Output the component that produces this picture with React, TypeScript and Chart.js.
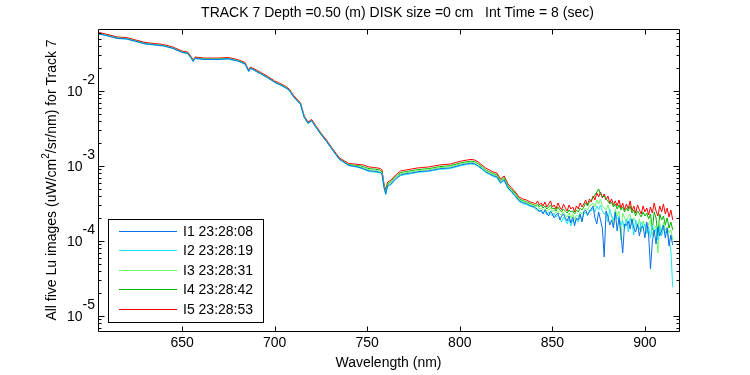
import React, { useEffect, useRef } from 'react';
import { Chart, registerables } from 'chart.js';

Chart.register(...registerables);

// ---------------- DATA ----------------
const titleText = 'TRACK 7 Depth =0.50 (m) DISK size =0 cm   Int Time = 8 (sec)';
const xLabelText = 'Wavelength (nm)';
const yLabelParts = ['All five Lu images (uW/cm', '2', '/sr/nm) for Track 7'];

const seriesLabels = ['I1 23:28:08', 'I2 23:28:19', 'I3 23:28:31', 'I4 23:28:42', 'I5 23:28:53'];
const seriesColors = ['#0a6ee6', '#1ee6f5', '#6cfa6c', '#00b400', '#ff0000'];

const xTicks = [650, 700, 750, 800, 850, 900];
const yMajorExponents = [-2, -3, -4, -5];
const xRange = [604.6, 918.4];
const yRange = [6.3e-6, 0.0671];

const wavelengths = [
  605, 610, 615, 620, 625, 630, 635, 640, 645, 650, 653, 655, 656, 657, 659, 662, 666, 670, 675, 680,
  684, 686, 687, 688, 690, 693, 696, 700, 703, 706, 708, 710, 712, 714, 716, 718, 720, 722, 725, 728,
  731, 735, 740, 745,
  748, 751, 754, 757, 758, 759, 760, 761, 762, 763, 764, 766, 768, 771, 774, 777, 780, 783, 786, 789,
  792, 795, 798, 801, 804, 806, 808, 810, 812, 814, 816, 818, 820, 822, 824, 826, 828, 830, 832, 834,
  836, 838, 840,
  841, 842, 843, 844, 845, 846, 847, 848, 849, 850, 851, 852, 853, 854, 855, 856, 857, 858, 859, 860,
  861, 862, 863, 864, 865, 866, 867, 868, 869, 870, 871, 872, 873, 874, 875, 876, 877, 878, 879, 880,
  881, 882, 883, 884, 885, 886, 887, 888, 889, 890, 891, 892, 893, 894, 895, 896, 897, 898, 899, 900,
  901, 902, 903, 904, 905, 906, 907, 908, 909, 910, 911, 912, 913, 914, 915,
];

const i1 = [
  0.0579, 0.0543, 0.0504, 0.0495, 0.046, 0.0426, 0.0413, 0.04, 0.0371, 0.0327,
  0.0318, 0.0273, 0.0249, 0.0273, 0.0269, 0.0264, 0.0264, 0.0264, 0.0269, 0.0252,
  0.023, 0.0183, 0.0201, 0.0195, 0.0183, 0.0167, 0.0152, 0.0131, 0.0121, 0.011,
  0.0102, 0.0085, 0.00751, 0.00664, 0.00445, 0.00371, 0.004, 0.00338, 0.00264, 0.00213,
  0.00167, 0.00123, 0.00102, 0.00097,
  9.2e-4, 8.6e-4, 8.5e-4, 8.2e-4, 7.9e-4, 5.3e-4, 4.25e-4, 5.45e-4, 5.6e-4, 5.8e-4,
  6.25e-4, 6.95e-4, 7.6e-4, 7.9e-4, 8.1e-4, 8.35e-4, 8.5e-4, 8.6e-4, 8.9e-4, 9.2e-4,
  9.3e-4, 9.45e-4, 9.9e-4, 1.04e-3, 1.07e-3, 1.09e-3, 1.07e-3, 1.0e-3, 9.2e-4, 8.35e-4,
  7.9e-4, 7.4e-4, 7.2e-4, 5.95e-4, 6.55e-4, 5.1e-4, 4.55e-4, 4.0e-4, 3.45e-4, 3.25e-4,
  3.15e-4, 2.95e-4, 2.85e-4,
  2.75e-4, 2.67e-4, 2.44e-4, 2.59e-4, 2.29e-4, 2.59e-4, 2.36e-4, 2.15e-4, 2.51e-4, 2.29e-4,
  2.03e-4, 2.22e-4, 2.36e-4, 1.91e-4, 2.15e-4, 2.29e-4, 2.03e-4, 1.85e-4, 2.15e-4, 1.74e-4,
  2.09e-4, 1.59e-4, 2.03e-4, 1.91e-4, 2.29e-4, 1.79e-4, 2.44e-4, 2.59e-4, 2.22e-4, 2.44e-4,
  2.67e-4, 2.93e-4, 2.03e-4, 1.69e-4, 2.44e-4, 1.91e-4, 1.49e-4, 6.12e-5, 2.51e-4, 2.15e-4,
  1.63e-4, 1.91e-4, 1.49e-4, 2.44e-4, 1.36e-4, 2.03e-4, 1.28e-4, 6.92e-5, 1.69e-4, 1.59e-4,
  1.85e-4, 1.45e-4, 1.97e-4, 1.49e-4, 1.32e-4, 1.69e-4, 1.17e-4, 1.54e-4, 1.54e-4, 1.10e-4,
  1.79e-4, 1.20e-4, 4.25e-5, 9.7e-5, 1.40e-4, 9.12e-5, 1.54e-4, 1.17e-4, 1.36e-4, 1.63e-4,
  1.10e-4, 1.49e-4, 8.58e-5, 1.20e-4, 8.84e-5,
];

const i2 = [
  0.0576, 0.0541, 0.0501, 0.0493, 0.0457, 0.0424, 0.0411, 0.0398, 0.0369, 0.0326,
  0.0316, 0.0271, 0.0247, 0.0271, 0.0267, 0.0263, 0.0263, 0.0263, 0.0267, 0.0251,
  0.0229, 0.0182, 0.02, 0.0194, 0.0182, 0.0166, 0.0151, 0.013, 0.012, 0.011,
  0.0101, 0.00845, 0.00747, 0.00661, 0.00443, 0.00369, 0.00398, 0.00336, 0.00263, 0.00212,
  0.00166, 0.00122, 0.00101, 0.00096,
  9.0e-4, 8.4e-4, 8.3e-4, 8.1e-4, 7.7e-4, 5.2e-4, 4.15e-4, 5.3e-4, 5.5e-4, 5.65e-4,
  6.1e-4, 6.8e-4, 7.45e-4, 7.7e-4, 7.9e-4, 8.2e-4, 8.3e-4, 8.45e-4, 8.7e-4, 9.0e-4,
  9.1e-4, 9.25e-4, 9.7e-4, 1.01e-3, 1.05e-3, 1.06e-3, 1.05e-3, 9.8e-4, 9.0e-4, 8.2e-4,
  7.7e-4, 7.25e-4, 7.0e-4, 5.85e-4, 6.4e-4, 5.0e-4, 4.45e-4, 3.9e-4, 3.35e-4, 3.15e-4,
  3.05e-4, 2.9e-4, 2.8e-4,
  2.67e-4, 2.51e-4, 2.59e-4, 2.44e-4, 2.36e-4, 2.51e-4, 2.22e-4, 2.44e-4, 2.29e-4, 2.15e-4,
  2.36e-4, 2.09e-4, 2.22e-4, 2.03e-4, 1.79e-4, 2.09e-4, 1.91e-4, 1.69e-4, 1.97e-4, 1.59e-4,
  1.91e-4, 1.74e-4, 1.97e-4, 1.79e-4, 2.15e-4, 1.97e-4, 2.29e-4, 2.44e-4, 2.15e-4, 2.59e-4,
  2.51e-4, 2.75e-4, 2.44e-4, 2.93e-4, 2.59e-4, 3.02e-4, 2.51e-4, 2.29e-4, 2.36e-4, 1.79e-4,
  2.67e-4, 2.15e-4, 1.91e-4, 2.29e-4, 1.97e-4, 2.15e-4, 1.63e-4, 1.85e-4, 1.45e-4, 1.97e-4,
  1.32e-4, 2.03e-4, 1.69e-4, 1.20e-4, 1.91e-4, 1.59e-4, 1.40e-4, 1.79e-4, 1.49e-4, 1.69e-4,
  1.28e-4, 1.54e-4, 1.10e-4, 1.63e-4, 1.24e-4, 1.45e-4, 1.03e-4, 1.59e-4, 1.17e-4, 1.49e-4,
  1.28e-4, 1.40e-4, 1.03e-4, 7.59e-5, 2.42e-5,
];

const i3 = [
  0.0582, 0.0546, 0.0507, 0.0498, 0.0462, 0.0428, 0.0415, 0.0402, 0.0372, 0.0329,
  0.0319, 0.0274, 0.025, 0.0274, 0.027, 0.0265, 0.0265, 0.0265, 0.027, 0.0254,
  0.0232, 0.0184, 0.0202, 0.0196, 0.0184, 0.0168, 0.0152, 0.0131, 0.0122, 0.0111,
  0.0102, 0.00854, 0.00755, 0.00668, 0.00448, 0.00372, 0.00402, 0.0034, 0.00265, 0.00214,
  0.00168, 0.00123, 0.00103, 0.00099,
  9.5e-4, 8.9e-4, 8.8e-4, 8.5e-4, 8.1e-4, 5.5e-4, 4.4e-4, 5.6e-4, 5.8e-4, 6.0e-4,
  6.45e-4, 7.2e-4, 7.9e-4, 8.15e-4, 8.4e-4, 8.65e-4, 8.8e-4, 8.9e-4, 9.2e-4, 9.5e-4,
  9.6e-4, 9.8e-4, 1.02e-3, 1.07e-3, 1.11e-3, 1.12e-3, 1.11e-3, 1.04e-3, 9.5e-4, 8.65e-4,
  8.15e-4, 7.65e-4, 7.4e-4, 6.2e-4, 6.8e-4, 5.3e-4, 4.7e-4, 4.15e-4, 3.55e-4, 3.35e-4,
  3.25e-4, 3.05e-4, 2.95e-4,
  2.84e-4, 2.93e-4, 2.67e-4, 2.75e-4, 2.59e-4, 2.67e-4, 2.51e-4, 2.59e-4, 2.75e-4, 2.44e-4,
  2.59e-4, 2.36e-4, 2.51e-4, 2.29e-4, 2.22e-4, 2.44e-4, 2.15e-4, 2.09e-4, 2.36e-4, 2.03e-4,
  2.29e-4, 1.91e-4, 2.22e-4, 2.09e-4, 2.44e-4, 2.29e-4, 2.51e-4, 2.75e-4, 2.59e-4, 2.93e-4,
  3.02e-4, 3.21e-4, 2.84e-4, 3.52e-4, 3.11e-4, 3.63e-4, 2.93e-4, 2.75e-4, 2.59e-4, 3.02e-4,
  2.44e-4, 2.22e-4, 1.59e-4, 2.67e-4, 2.15e-4, 2.51e-4, 1.03e-4, 2.36e-4, 2.03e-4, 1.79e-4,
  2.15e-4, 2.29e-4, 1.63e-4, 2.03e-4, 1.79e-4, 1.49e-4, 1.97e-4, 1.32e-4, 1.85e-4, 1.59e-4,
  1.24e-4, 1.69e-4, 1.91e-4, 1.17e-4, 1.49e-4, 1.59e-4, 6.92e-5, 1.69e-4, 1.36e-4, 1.79e-4,
  1.40e-4, 1.54e-4, 1.28e-4, 1.40e-4, 1.03e-4,
];

const i4 = [
  0.0585, 0.0549, 0.0509, 0.0501, 0.0465, 0.0431, 0.0417, 0.0404, 0.0374, 0.0331,
  0.0321, 0.0275, 0.0251, 0.0275, 0.0272, 0.0267, 0.0267, 0.0267, 0.0272, 0.0255,
  0.0233, 0.0185, 0.0203, 0.0197, 0.0185, 0.0169, 0.0153, 0.0132, 0.0122, 0.0112,
  0.0103, 0.00858, 0.00759, 0.00671, 0.0045, 0.00374, 0.00404, 0.00341, 0.00267, 0.00215,
  0.00169, 0.00124, 0.00104, 0.00101,
  9.8e-4, 9.2e-4, 9.1e-4, 8.8e-4, 8.4e-4, 5.6e-4, 4.55e-4, 5.8e-4, 6.0e-4, 6.2e-4,
  6.7e-4, 7.4e-4, 8.15e-4, 8.4e-4, 8.7e-4, 8.9e-4, 9.1e-4, 9.2e-4, 9.5e-4, 9.8e-4,
  9.95e-4, 1.01e-3, 1.06e-3, 1.11e-3, 1.14e-3, 1.16e-3, 1.14e-3, 1.07e-3, 9.8e-4, 8.9e-4,
  8.4e-4, 7.9e-4, 7.65e-4, 6.4e-4, 7.0e-4, 5.45e-4, 4.85e-4, 4.3e-4, 3.65e-4, 3.45e-4,
  3.35e-4, 3.15e-4, 3.05e-4,
  2.93e-4, 3.11e-4, 2.84e-4, 3.02e-4, 2.75e-4, 2.93e-4, 2.67e-4, 2.84e-4, 3.02e-4, 2.67e-4,
  2.75e-4, 2.51e-4, 2.84e-4, 2.59e-4, 2.44e-4, 2.67e-4, 2.51e-4, 2.36e-4, 2.59e-4, 2.44e-4,
  2.51e-4, 2.29e-4, 2.59e-4, 2.44e-4, 2.75e-4, 2.59e-4, 2.84e-4, 3.21e-4, 2.93e-4, 3.31e-4,
  3.52e-4, 3.74e-4, 4.11e-4, 4.5e-4, 4.94e-4, 4.23e-4, 3.86e-4, 3.98e-4, 3.63e-4, 3.42e-4,
  3.11e-4, 3.31e-4, 2.84e-4, 3.11e-4, 2.67e-4, 3.02e-4, 2.59e-4, 2.84e-4, 2.44e-4, 2.75e-4,
  2.51e-4, 2.93e-4, 2.36e-4, 2.59e-4, 2.15e-4, 2.51e-4, 2.29e-4, 2.09e-4, 2.44e-4, 2.15e-4,
  2.36e-4, 1.97e-4, 2.29e-4, 1.40e-4, 2.44e-4, 2.03e-4, 1.17e-4, 2.29e-4, 1.91e-4, 2.15e-4,
  1.63e-4, 2.03e-4, 1.49e-4, 1.79e-4, 1.40e-4,
];

const i5 = [
  0.0603, 0.0566, 0.0525, 0.0516, 0.0479, 0.0444, 0.043, 0.0417, 0.0386, 0.0341,
  0.0331, 0.0284, 0.0259, 0.0284, 0.028, 0.0275, 0.0275, 0.0275, 0.028, 0.0263,
  0.024, 0.0191, 0.0209, 0.0203, 0.0191, 0.0174, 0.0158, 0.0136, 0.0126, 0.0115,
  0.0106, 0.00885, 0.00782, 0.00692, 0.00464, 0.00386, 0.00417, 0.00352, 0.00275, 0.00222,
  0.00174, 0.00128, 0.00108, 0.00105,
  1.03e-3, 9.7e-4, 9.55e-4, 9.26e-4, 8.85e-4, 5.93e-4, 4.79e-4, 6.12e-4, 6.31e-4, 6.51e-4,
  7.03e-4, 7.82e-4, 8.58e-4, 8.85e-4, 9.12e-4, 9.4e-4, 9.55e-4, 9.7e-4, 1.0e-3, 1.03e-3,
  1.047e-3, 1.063e-3, 1.113e-3, 1.166e-3, 1.202e-3, 1.222e-3, 1.202e-3, 1.13e-3, 1.03e-3, 9.4e-4,
  8.85e-4, 8.32e-4, 8.06e-4, 6.71e-4, 7.36e-4, 5.75e-4, 5.1e-4, 4.5e-4, 3.86e-4, 3.63e-4,
  3.52e-4, 3.31e-4, 3.21e-4,
  3.11e-4, 3.42e-4, 3.02e-4, 3.21e-4, 2.93e-4, 3.31e-4, 2.84e-4, 3.11e-4, 3.42e-4, 2.84e-4,
  3.02e-4, 2.67e-4, 3.21e-4, 2.84e-4, 2.59e-4, 3.11e-4, 2.75e-4, 2.51e-4, 3.02e-4, 2.67e-4,
  2.84e-4, 2.44e-4, 2.93e-4, 2.67e-4, 3.21e-4, 2.84e-4, 3.11e-4, 3.52e-4, 3.02e-4, 3.63e-4,
  3.31e-4, 3.98e-4, 3.52e-4, 4.37e-4, 3.86e-4, 4.5e-4, 3.74e-4, 4.23e-4, 3.52e-4, 3.98e-4,
  3.21e-4, 3.63e-4, 3.02e-4, 3.42e-4, 2.93e-4, 3.52e-4, 2.75e-4, 3.21e-4, 2.59e-4, 3.11e-4,
  2.67e-4, 3.42e-4, 2.51e-4, 2.93e-4, 2.36e-4, 3.02e-4, 2.59e-4, 2.29e-4, 2.93e-4, 2.44e-4,
  2.75e-4, 2.22e-4, 2.84e-4, 2.36e-4, 3.21e-4, 2.51e-4, 2.15e-4, 2.93e-4, 2.44e-4, 3.11e-4,
  2.29e-4, 2.75e-4, 2.09e-4, 2.59e-4, 1.91e-4,
];

const seriesValues = [i1, i2, i3, i4, i5];

// ---------------- STYLE ----------------
const FONT_FAMILY = '"Liberation Sans", Arial, Helvetica, sans-serif';
const FONT_SIZE = 14;

const matlabPlugin = {
  id: 'matlabDecor',
  beforeDraw(chart: any) {
    const { ctx, width, height } = chart;
    ctx.save();
    ctx.fillStyle = '#ffffff';
    ctx.fillRect(0, 0, width, height);
    ctx.restore();
  },
  afterDraw(chart: any) {
    const { ctx, chartArea: a, scales } = chart;
    const xs = scales.x;
    const ys = scales.y;
    const L = Math.round(a.left) + 0.5;
    const R = Math.round(a.right) + 0.5;
    const T = Math.round(a.top) + 0.5;
    const B = Math.round(a.bottom) + 0.5;
    const font = `${FONT_SIZE}px ${FONT_FAMILY}`;

    ctx.save();
    ctx.strokeStyle = '#000';
    ctx.lineWidth = 1;
    ctx.beginPath();
    ctx.rect(L, T, R - L, B - T);
    ctx.stroke();

    // x ticks (inward, top and bottom)
    ctx.beginPath();
    xTicks.forEach((v) => {
      const px = Math.round(xs.getPixelForValue(v)) + 0.5;
      ctx.moveTo(px, B);
      ctx.lineTo(px, B - 5);
      ctx.moveTo(px, T);
      ctx.lineTo(px, T + 5);
    });
    // y ticks: major + minor
    const [ymin, ymax] = yRange;
    for (let e = -7; e <= 0; e++) {
      for (let m = 1; m <= 9; m++) {
        const v = m * Math.pow(10, e);
        if (v < ymin || v > ymax) continue;
        const py = Math.round(ys.getPixelForValue(v)) + 0.5;
        const len = m === 1 ? 6 : 3;
        ctx.moveTo(L, py);
        ctx.lineTo(L + len, py);
        ctx.moveTo(R, py);
        ctx.lineTo(R - len, py);
      }
    }
    ctx.stroke();

    ctx.fillStyle = '#000';
    ctx.font = font;
    // x tick labels
    ctx.textAlign = 'center';
    ctx.textBaseline = 'middle';
    xTicks.forEach((v) => {
      ctx.fillText(String(v), xs.getPixelForValue(v), a.bottom + 12);
    });

    // y tick labels 10^e
    yMajorExponents.forEach((e) => {
      const py = ys.getPixelForValue(Math.pow(10, e));
      const expStr = String(e);
      const expW = ctx.measureText(expStr).width;
      const expX = a.left - 3 - expW;
      ctx.textAlign = 'left';
      ctx.fillText(expStr, expX, py - 11);
      ctx.textAlign = 'right';
      ctx.fillText('10', expX, py + 1);
    });

    // title (MATLAB places it slightly right of the axes centre here)
    ctx.textAlign = 'center';
    ctx.fillText(titleText, (a.left + a.right) / 2 + 9, 13);

    // x label
    ctx.fillText(xLabelText, (a.left + a.right) / 2, a.bottom + 32);

    // y label (rotated), with superscript
    ctx.save();
    ctx.translate(52, (a.top + a.bottom) / 2);
    ctx.rotate(-Math.PI / 2);
    const supFont = `${FONT_SIZE - 4}px ${FONT_FAMILY}`;
    ctx.font = font;
    const w0 = ctx.measureText(yLabelParts[0]).width;
    const w2 = ctx.measureText(yLabelParts[2]).width;
    ctx.font = supFont;
    const w1 = ctx.measureText(yLabelParts[1]).width;
    let cx = -(w0 + w1 + w2) / 2;
    ctx.textAlign = 'left';
    ctx.font = font;
    ctx.fillText(yLabelParts[0], cx, 0);
    cx += w0;
    ctx.font = supFont;
    ctx.fillText(yLabelParts[1], cx, -6);
    cx += w1;
    ctx.font = font;
    ctx.fillText(yLabelParts[2], cx, 0);
    ctx.restore();

    // legend
    const lx0 = 108.5, ly0 = 219.5, lx1 = 263.5, ly1 = 322.5;
    ctx.fillStyle = '#fff';
    ctx.fillRect(lx0, ly0, lx1 - lx0, ly1 - ly0);
    ctx.strokeStyle = '#000';
    ctx.strokeRect(lx0, ly0, lx1 - lx0, ly1 - ly0);
    seriesLabels.forEach((lab, i) => {
      const y = Math.round(231 + i * 19.4) + 0.5;
      ctx.strokeStyle = seriesColors[i];
      ctx.beginPath();
      ctx.moveTo(119, y);
      ctx.lineTo(177, y);
      ctx.stroke();
      ctx.fillStyle = '#000';
      ctx.font = font;
      ctx.textAlign = 'left';
      ctx.textBaseline = 'middle';
      ctx.fillText(lab, 183, y + 0.5);
    });

    ctx.restore();
  },
};

export default function App() {
  const canvasRef = useRef<HTMLCanvasElement | null>(null);

  useEffect(() => {
    const canvas = canvasRef.current;
    if (!canvas) return;
    const chart = new Chart(canvas, {
      type: 'line',
      data: {
        datasets: seriesValues.map((vals, i) => ({
          label: seriesLabels[i],
          data: wavelengths.map((w, j) => ({ x: w, y: vals[j] })),
          borderColor: seriesColors[i],
          backgroundColor: seriesColors[i],
          borderWidth: 1,
          pointRadius: 0,
          tension: 0,
          fill: false,
        })),
      },
      options: {
        animation: false,
        responsive: false,
        devicePixelRatio: 1,
        events: [],
        layout: { padding: { left: 98, right: 71, top: 29, bottom: 44 } },
        plugins: {
          legend: { display: false },
          tooltip: { enabled: false },
          title: { display: false },
        },
        scales: {
          x: { type: 'linear', min: xRange[0], max: xRange[1], display: false },
          y: { type: 'logarithmic', min: yRange[0], max: yRange[1], display: false },
        },
      },
      plugins: [matlabPlugin],
    } as any);
    return () => chart.destroy();
  }, []);

  return (
    <div style={{ position: 'absolute', left: 0, top: 0, width: 750, height: 375, background: '#fff' }}>
      <canvas ref={canvasRef} width={750} height={375} style={{ display: 'block' }} />
    </div>
  );
}
